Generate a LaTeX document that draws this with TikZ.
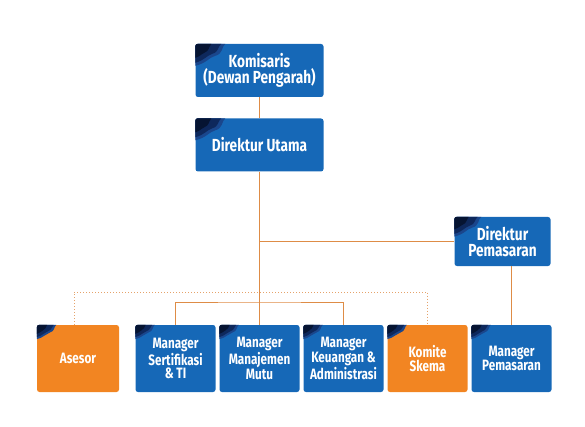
\documentclass[tikz,border=0pt]{standalone}
\usepackage{fontspec}
\setmainfont{Fira Sans}[FakeStretch=0.78]
\definecolor{boxblue}{RGB}{22,104,183}
\definecolor{boxorange}{RGB}{242,133,34}
\definecolor{linecol}{RGB}{222,140,70}
\definecolor{navyA}{RGB}{26,70,140}
\definecolor{navyB}{RGB}{14,40,92}
\definecolor{navyC}{RGB}{6,20,50}
\tikzset{
  orgbox/.style={rectangle, rounded corners=2.5pt, fill=boxblue, text=white, align=center, inner sep=0pt},
  topbox/.style={orgbox, font=\bfseries\fontsize{17.5}{16}\selectfont},
  lowbox/.style={orgbox, minimum width=80pt, minimum height=67pt, font=\bfseries\fontsize{15}{13.5}\selectfont},
  orangebox/.style={fill=boxorange},
  conn/.style={draw=linecol, line width=1pt},
  dotconn/.style={draw=linecol!80, line width=1pt, dotted}
}
\newcommand\decoshapes{%
      \fill[navyA] (0,0) -- (30,0) .. controls (26,3) and (28,10) .. (20,12) .. controls (13,14) and (12,19) .. (0,22) -- cycle;
      \fill[navyB] (0,0) -- (26,0) .. controls (22,3) and (24,8) .. (17,10) .. controls (11,12) and (10,16) .. (0,19) -- cycle;
      \fill[navyC] (0,0) -- (16,0) .. controls (13,4) and (14,7) .. (9,9) .. controls (5,11) and (4,13) .. (0,14) -- cycle;}
\newcommand\cornerdeco[2]{%
  \begin{scope}
    \clip[rounded corners=2.5pt] (#1.north west) rectangle (#1.south east);
    \begin{scope}[shift={(#1.north west)},scale=#2]
      \decoshapes
    \end{scope}
  \end{scope}}
\begin{document}
\begin{tikzpicture}[x=1pt,y=-1pt]
\useasboundingbox (0,0) rectangle (585,427);
\coordinate (j1) at (259.5,242);
\coordinate (bus) at (259.5,302);
\coordinate (dotL) at (74,292);
\node[topbox, minimum width=128pt, minimum height=53pt] (kom) at (259.5,70.5) {Komisaris\\(Dewan Pengarah)};
\node[topbox, minimum width=128pt, minimum height=53pt] (dirut) at (259.5,145) {Direktur Utama};
\node[topbox, minimum width=96pt, minimum height=49pt] (dirpem) at (502.5,241.5) {Direktur\\Pemasaran};
\node[lowbox, orangebox, minimum width=82pt] (asesor) at (78,358.5) {Asesor};
\node[lowbox] (sert) at (175.5,358.5) {Manager\\Sertifikasi\\\& TI};
\node[lowbox] (mutu) at (259.5,358.5) {Manager\\Manajemen\\Mutu};
\node[lowbox] (keu) at (343.5,358.5) {Manager\\Keuangan \&\\Administrasi};
\node[lowbox, orangebox] (komite) at (427.5,358.5) {Komite\\Skema};
\node[lowbox] (manpem) at (511.5,358.5) {Manager\\Pemasaran};
\cornerdeco{kom}{1}
\cornerdeco{dirut}{1}
\cornerdeco{dirpem}{0.9}
\cornerdeco{asesor}{0.65}
\cornerdeco{sert}{0.65}
\cornerdeco{mutu}{0.65}
\cornerdeco{keu}{0.65}
\cornerdeco{komite}{0.65}
\cornerdeco{manpem}{0.65}
\draw[dotconn] (asesor.north -| dotL) -- (dotL) -| (komite.north);
\draw[conn] (kom.south) -- (dirut.north);
\draw[conn] (dirut.south) -- (mutu.north);
\draw[conn] (j1) -- (dirpem.west |- j1);
\draw[conn] (sert.north) |- (bus) -| (keu.north);
\draw[conn] (manpem.north |- dirpem.south) -- (manpem.north);
\end{tikzpicture}
\end{document}
